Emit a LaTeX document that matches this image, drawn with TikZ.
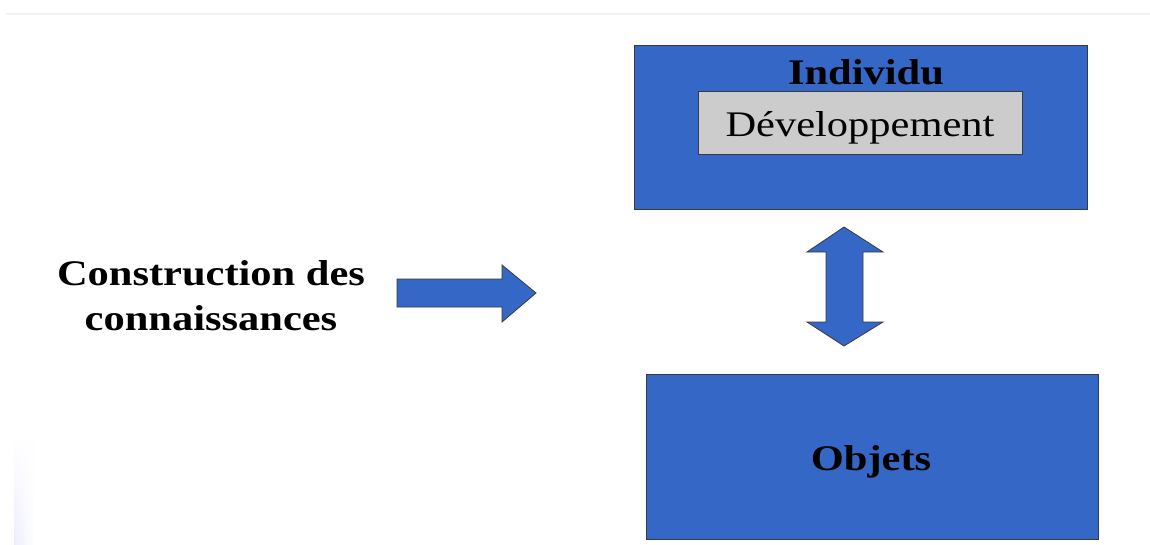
\documentclass[tikz,border=0pt]{standalone}
\usepackage{fontspec}
\setmainfont{Liberation Serif}
\newfontfamily\widerm[FakeStretch=1.18]{Liberation Serif}
\usetikzlibrary{positioning,fadings}
\definecolor{boxblue}{HTML}{3567C6}
\definecolor{boxgrey}{HTML}{CCCCCC}
\definecolor{edgegrey}{HTML}{3A3A3A}
\tikzset{
  panel/.style={draw=edgegrey, line width=0.9pt, fill=boxblue, inner sep=0pt},
  inset/.style={draw=edgegrey, line width=0.9pt, fill=boxgrey, inner sep=0pt},
  title/.style={font=\widerm\bfseries\fontsize{36}{45}\selectfont, inner sep=0pt, anchor=base},
  plain/.style={font=\widerm\fontsize{36}{45}\selectfont, inner sep=0pt, anchor=base},
  blockarrow/.style={draw=edgegrey, line width=0.8pt, fill=boxblue, line join=miter}
}
\begin{document}
\begin{tikzpicture}[x=1pt, y=-1pt]
  \useasboundingbox (0,0) rectangle (1150,545);
  \fill[white] (0,0) rectangle (1150,545);
  % faint page edge
  \draw[color=black!5, line width=1.5pt] (6,14) -- (1150,14);
  \shade[left color=blue!7, right color=white, path fading=north] (14,440) rectangle (34,545);

  % upper panel
  \node[panel, minimum width=453pt, minimum height=164pt, anchor=north west] (indiv) at (634,45) {};
  \node[title] (indivlbl) at (866,85) {Individu};
  \node[inset, minimum width=324pt, minimum height=63pt, anchor=north west] (dev) at (698,91) {};
  \node[plain] (devlbl) at (860,137) {Développement};

  % lower panel
  \node[panel, minimum width=452pt, minimum height=165pt, anchor=north west] (obj) at (646,374) {};
  \node[title] (objlbl) at (871,470) {Objets};

  % left caption
  \node[title, align=center, anchor=center] (constr) at (211,296)
    {Construction des\\connaissances};

  % right-pointing block arrow
  \draw[blockarrow] (397,279) -- (502,279) -- (502,265) -- (536,293)
    -- (502,322) -- (502,307) -- (397,307) -- cycle;

  % two-headed vertical block arrow
  \draw[blockarrow] (844,227) -- (883,252) -- (863,252) -- (863,322)
    -- (883,322) -- (844,346) -- (807,322) -- (826,322) -- (826,252)
    -- (807,252) -- cycle;
\end{tikzpicture}
\end{document}
